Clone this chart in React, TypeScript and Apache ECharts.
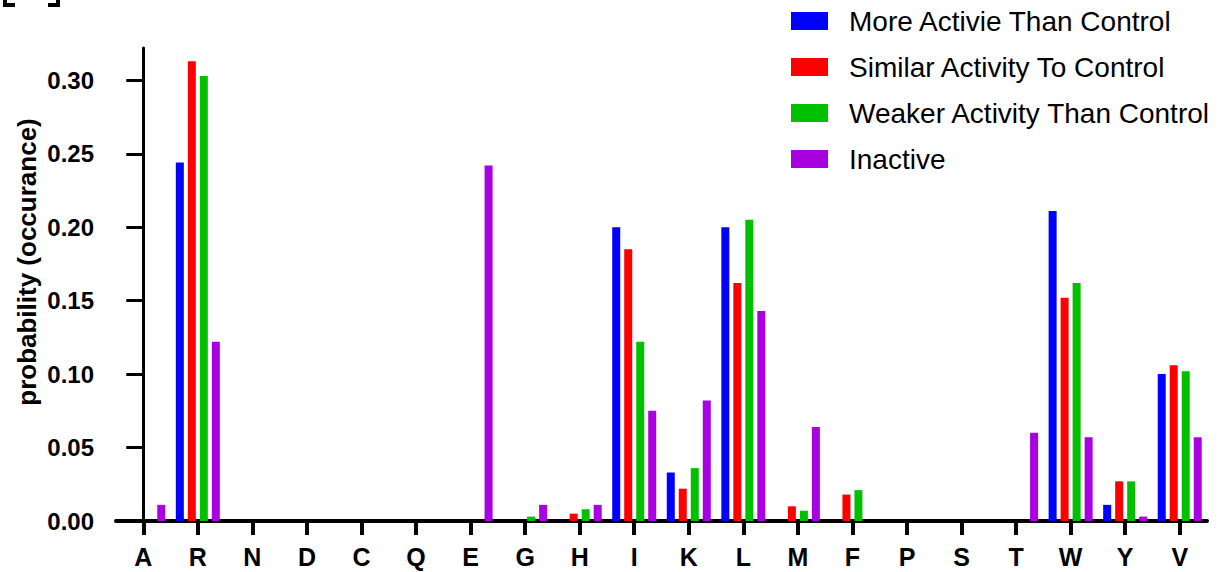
import React, { useEffect, useRef } from "react";
import * as echarts from "echarts";

const categories = ["A", "R", "N", "D", "C", "Q", "E", "G", "H", "I", "K", "L", "M", "F", "P", "S", "T", "W", "Y", "V"];

const moreActive = [0, 0.244, 0, 0, 0, 0, 0, 0, 0, 0.2, 0.033, 0.2, 0, 0, 0, 0, 0, 0.211, 0.011, 0.1];
const similar = [0, 0.313, 0, 0, 0, 0, 0, 0, 0.005, 0.185, 0.022, 0.162, 0.01, 0.018, 0, 0, 0, 0.152, 0.027, 0.106];
const weaker = [0, 0.303, 0, 0, 0, 0, 0, 0.003, 0.008, 0.122, 0.036, 0.205, 0.007, 0.021, 0, 0, 0, 0.162, 0.027, 0.102];
const inactive = [0.011, 0.122, 0, 0, 0, 0, 0.242, 0.011, 0.011, 0.075, 0.082, 0.143, 0.064, 0, 0, 0, 0.06, 0.057, 0.003, 0.057];

const seriesNames = [
  "More Activie Than Control",
  "Similar Activity To Control",
  "Weaker Activity Than Control",
  "Inactive",
];
const seriesColors = ["#0000FF", "#FF0000", "#00C000", "#A800E0"];
const yTicks = [0, 0.05, 0.1, 0.15, 0.2, 0.25, 0.3];
const yAxisTitle = "probability (occurance)";

export default function App() {
  const ref = useRef<HTMLDivElement>(null);
  useEffect(() => {
    if (!ref.current) return;
    const chart = echarts.init(ref.current, null, { renderer: "svg" });
    const data = [moreActive, similar, weaker, inactive];
    const font = "Arial, 'Liberation Sans', Helvetica, sans-serif";
    const catTickValues = categories.map((_, i) => i);
    chart.setOption({
      animation: false,
      backgroundColor: "#ffffff",
      textStyle: { fontFamily: font },
      grid: { left: 116, right: 16, top: 48, bottom: 51, containLabel: false },
      legend: {
        orient: "vertical",
        left: 786,
        top: 2,
        padding: 5,
        itemWidth: 37,
        itemHeight: 18,
        itemGap: 18,
        icon: "rect",
        selectedMode: false,
        textStyle: { fontSize: 28, color: "#000", fontFamily: font, lineHeight: 28, padding: [0, 0, 0, 16] },
        data: seriesNames,
      },
      xAxis: [
        {
          type: "category",
          data: categories,
          boundaryGap: true,
          axisLine: { show: true, onZero: false, lineStyle: { color: "#000", width: 4 } },
          axisTick: { show: false },
          axisLabel: { color: "#000", fontSize: 25, fontWeight: "bold", margin: 23, fontFamily: font, interval: 0 },
          splitLine: { show: false },
        },
        {
          type: "value",
          position: "bottom",
          min: -0.5,
          max: categories.length - 0.5,
          axisLine: { show: false, onZero: false },
          axisTick: {
            show: true,
            inside: false,
            length: 14,
            customValues: catTickValues,
            lineStyle: { color: "#000", width: 4 },
          },
          axisLabel: { show: false, customValues: catTickValues },
          splitLine: { show: false },
        },
      ],
      yAxis: {
        type: "value",
        min: 0,
        max: 0.322,
        axisLine: { show: true, lineStyle: { color: "#000", width: 3 } },
        axisTick: { show: true, length: 17, customValues: yTicks, lineStyle: { color: "#000", width: 3 } },
        axisLabel: {
          color: "#000",
          fontSize: 24,
          fontWeight: "bold",
          margin: 22,
          fontFamily: font,
          customValues: yTicks,
          formatter: (v: number) => v.toFixed(2),
        },
        splitLine: { show: false },
      },
      graphic: [
        {
          type: "text",
          x: 27,
          y: 262,
          rotation: Math.PI / 2,
          style: {
            text: yAxisTitle,
            fontSize: 26,
            fontWeight: "bold",
            fontFamily: font,
            fill: "#000",
            align: "center",
            verticalAlign: "middle",
          },
        },
        { type: "rect", shape: { x: 3, y: 0, width: 4, height: 7 }, style: { fill: "#000" } },
        { type: "rect", shape: { x: 3, y: 3, width: 12, height: 4 }, style: { fill: "#000" } },
        { type: "rect", shape: { x: 56, y: 0, width: 4, height: 7 }, style: { fill: "#000" } },
        { type: "rect", shape: { x: 48, y: 3, width: 12, height: 4 }, style: { fill: "#000" } },
      ],
      series: seriesNames.map((name, i) => ({
        name,
        type: "bar",
        xAxisIndex: 0,
        data: data[i],
        barWidth: 8,
        barGap: "50%",
        itemStyle: { color: seriesColors[i] },
      })),
    });
    return () => chart.dispose();
  }, []);
  return (
    <div
      ref={ref}
      style={{ position: "absolute", left: 0, top: 0, width: 1223, height: 572, background: "#fff" }}
    />
  );
}
